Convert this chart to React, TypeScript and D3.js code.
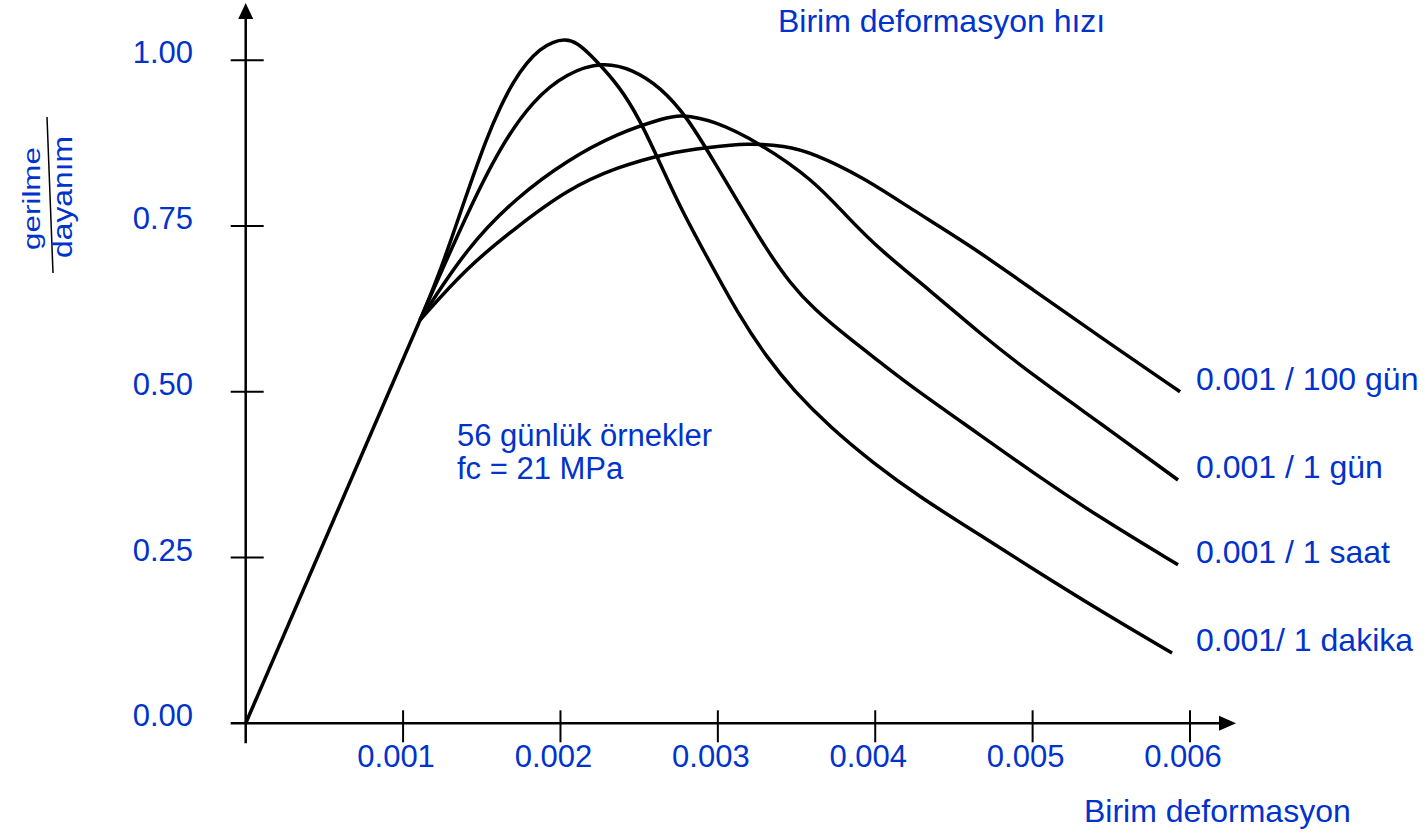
import React from 'react';
import * as d3 from 'd3';

// strain kept in thousandths (1 = 0.001), stress as gerilme / dayanım ratio
const elastic: [number, number][] = [[0, 0], [1.107, 0.608]];

const dakika: [number, number][] = [
  [1.107, 0.608], [1.234, 0.679], [1.406, 0.8], [1.533, 0.884], [1.616, 0.929],
  [1.698, 0.967], [1.787, 0.997], [1.869, 1.017], [1.952, 1.028], [2.03, 1.032],
  [2.105, 1.027], [2.206, 1.005], [2.378, 0.96], [2.505, 0.91], [2.632, 0.845],
  [2.76, 0.779], [2.906, 0.714], [3.141, 0.612], [3.312, 0.552], [3.477, 0.503],
  [3.712, 0.447], [3.985, 0.393], [4.284, 0.341], [4.665, 0.284], [5.002, 0.233],
  [5.428, 0.17], [5.886, 0.106]
];

const saat: [number, number][] = [
  [1.107, 0.608], [1.406, 0.769], [1.616, 0.869], [1.825, 0.94], [2.041, 0.981],
  [2.27, 0.998], [2.46, 0.986], [2.632, 0.96], [2.804, 0.915], [2.969, 0.85],
  [3.185, 0.764], [3.312, 0.714], [3.458, 0.664], [3.605, 0.626], [3.821, 0.583],
  [4.03, 0.545], [4.24, 0.506], [4.666, 0.435], [5.002, 0.378], [5.428, 0.31],
  [5.924, 0.239]
];

const gun: [number, number][] = [
  [1.107, 0.608], [1.406, 0.718], [1.724, 0.794], [2.041, 0.849], [2.359, 0.89],
  [2.676, 0.914], [2.759, 0.918], [2.969, 0.91], [3.268, 0.875], [3.605, 0.82],
  [3.821, 0.764], [4.03, 0.714], [4.348, 0.653], [4.665, 0.588], [5.002, 0.525],
  [5.428, 0.453], [5.924, 0.367]
];

const yuzGun: [number, number][] = [
  [1.107, 0.608], [1.406, 0.688], [1.724, 0.749], [2.041, 0.805], [2.359, 0.839],
  [2.676, 0.86], [2.95, 0.869], [3.185, 0.875], [3.427, 0.871], [3.605, 0.86],
  [3.921, 0.824], [4.24, 0.774], [4.583, 0.724], [5.002, 0.654], [5.428, 0.583],
  [5.937, 0.5]
];

const seriesLabels = ['0.001/ 1 dakika', '0.001 / 1 saat', '0.001 / 1 gün', '0.001 / 100 gün'];
const xTicks = [1, 2, 3, 4, 5, 6];
const xTickLabels = ['0.001', '0.002', '0.003', '0.004', '0.005', '0.006'];
const yTicks = [0, 0.25, 0.5, 0.75, 1.0];

const blue = '#0033cc';
const font = '"Liberation Sans", Arial, sans-serif';

export default function App() {
  const x = d3.scaleLinear().domain([0, 6]).range([245.7, 1190]);
  const y = d3.scaleLinear().domain([0, 1]).range([723.3, 60.3]);

  const curve = d3.line<[number, number]>()
    .x(d => x(d[0]))
    .y(d => y(d[1]))
    .curve(d3.curveBasis);
  const straight = d3.line<[number, number]>().x(d => x(d[0])).y(d => y(d[1]));

  const all = [dakika, saat, gun, yuzGun];
  const x0 = x(0), y0 = y(0);

  return (
    <svg width={1428} height={832} style={{position: 'absolute', left: 0, top: 0}}
      fontFamily={font}>
      <rect width={1428} height={832} fill="#fff" />

      {/* axes */}
      <line x1={x0} x2={x0} y1={y0 + 20} y2={18} stroke="#000" strokeWidth={2.5} />
      <path d={`M${x0},3 L${x0 - 7.5},19 L${x0 + 7.5},19 Z`} fill="#000" />
      <line x1={x0 - 15} x2={1220} y1={y0} y2={y0} stroke="#000" strokeWidth={2.5} />
      <path d={`M1236,${y0} L1219,${y0 - 7.5} L1219,${y0 + 7.5} Z`} fill="#000" />

      {yTicks.map(t => (
        <g key={'y' + t}>
          {t > 0 && <line x1={x0 - 15} x2={x0 + 18} y1={y(t)} y2={y(t)} stroke="#000" strokeWidth={2} />}
          <text x={193} y={y(t) + 3} textAnchor="end" fontSize={31} fill={blue}>{d3.format('.2f')(t)}</text>
        </g>
      ))}
      {xTicks.map((t, i) => (
        <g key={'x' + t}>
          <line x1={x(t)} x2={x(t)} y1={y0 - 13} y2={y0 + 19} stroke="#000" strokeWidth={2} />
          <text x={x(t) - 7} y={767} textAnchor="middle" fontSize={31} fill={blue}>{xTickLabels[i]}</text>
        </g>
      ))}

      {/* curves */}
      <path d={straight(elastic) || ''} fill="none" stroke="#000" strokeWidth={3.5} />
      {all.map((s, i) => (
        <path key={i} d={curve(s) || ''} fill="none" stroke="#000" strokeWidth={3.5}
          strokeLinejoin="round" />
      ))}
      {all.map((s, i) => (
        <text key={'l' + i} x={1196} y={y(s[s.length - 1][1]) - 2} fontSize={32} fill={blue}>
          {seriesLabels[i]}
        </text>
      ))}

      {/* titles */}
      <text x={778} y={32} fontSize={32} fill={blue}>Birim deformasyon hızı</text>
      <text x={1084} y={822} fontSize={32} fill={blue}>Birim deformasyon</text>
      <text x={457} y={446} fontSize={31} fill={blue}>56 günlük örnekler</text>
      <text x={457} y={479} fontSize={31} fill={blue}>fc = 21 MPa</text>

      {/* y axis label as a fraction */}
      <text transform="translate(40,250) rotate(-90)" fontSize={23} fill={blue}
        textLength={103} lengthAdjust="spacingAndGlyphs">gerilme</text>
      <line x1={47} y1={117} x2={53} y2={273} stroke="#000" strokeWidth={1.5} />
      <text transform="translate(72,258) rotate(-90)" fontSize={27} fill={blue}
        textLength={122} lengthAdjust="spacingAndGlyphs">dayanım</text>
    </svg>
  );
}
